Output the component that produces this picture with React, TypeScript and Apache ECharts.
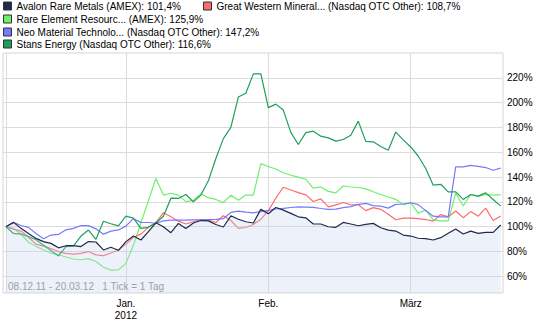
import React, { useEffect, useRef } from 'react';
import * as echarts from 'echarts';

const dates: string[] = [
  '2011-12-08', '2011-12-09', '2011-12-12', '2011-12-13', '2011-12-14', '2011-12-15', '2011-12-16',
  '2011-12-19', '2011-12-20', '2011-12-21', '2011-12-22', '2011-12-23', '2011-12-27', '2011-12-28',
  '2011-12-29', '2011-12-30',
  '2012-01-03', '2012-01-04', '2012-01-05', '2012-01-06', '2012-01-09', '2012-01-10', '2012-01-11',
  '2012-01-12', '2012-01-13', '2012-01-17', '2012-01-18', '2012-01-19', '2012-01-20', '2012-01-23',
  '2012-01-24', '2012-01-25', '2012-01-26', '2012-01-30', '2012-01-31',
  '2012-02-01', '2012-02-02', '2012-02-03', '2012-02-06', '2012-02-07', '2012-02-08', '2012-02-09',
  '2012-02-10', '2012-02-13', '2012-02-14', '2012-02-15', '2012-02-16', '2012-02-17', '2012-02-21',
  '2012-02-22', '2012-02-23', '2012-02-24', '2012-02-27', '2012-02-28',
  '2012-03-01', '2012-03-02', '2012-03-05', '2012-03-06', '2012-03-07', '2012-03-08', '2012-03-09',
  '2012-03-12', '2012-03-13', '2012-03-14', '2012-03-15', '2012-03-16', '2012-03-20',
];

const avalon: number[] = [
  100, 103.5, 98.7, 94.6, 90.6, 88, 86.6, 83, 84.7, 84.7,
  84, 88, 87.7, 81.3, 83.5, 81, 88, 92.5, 89.3, 96,
  103.2, 100, 95.2, 102.7, 98.5, 103, 105, 104.7, 101.8, 99.8,
  108.8, 106, 104, 103, 114, 110.5, 115.5, 113.4, 110.8, 108,
  107.2, 102.2, 102.2, 100, 99.5, 103.5, 102.2, 100.8, 101.9, 102.7,
  99.2, 97.3, 96.5, 93.3, 92.5, 90.7, 90.4, 89.3, 91.2, 94.7,
  98.2, 94.1, 96.5, 94.7, 95.5, 95.5, 101.4,
];

const greatWestern: number[] = [
  100, 98.1, 96.5, 91.5, 86, 84.4, 82.5, 80, 78.5, 78,
  78.5, 80, 77.3, 76.7, 78.8, 81.3, 86, 91.5, 94, 99.5,
  103.5, 111.2, 108, 104.5, 102.2, 104, 105.8, 105.4, 103.4, 108.8,
  105, 98.7, 99.4, 101.8, 106, 113, 123, 131.8, 129.6, 127.5,
  125.7, 120.3, 122.4, 116, 117.6, 119.5, 117.7, 117.7, 113, 115.4,
  114, 110, 105.6, 107, 107, 106.6, 105.8, 104.5, 109.8, 108,
  112.7, 107.3, 112.2, 108.5, 115, 105, 108.7,
];

const rareElement: number[] = [
  100, 98.8, 94, 87.5, 84.2, 81.3, 78.8, 77.4, 75.6, 74,
  73.4, 74.3, 72, 67.3, 65, 65.2, 70.5, 85, 103, 121,
  138.9, 125.5, 127, 125.5, 120.2, 121.3, 126.5, 123.4, 122, 119.5,
  125.3, 121.4, 125.5, 125.5, 150.9, 148.5, 146.5, 143.5, 141.5, 140,
  138.3, 131, 132.1, 128.5, 127.3, 132.8, 132, 131.6, 130.5, 128.2,
  126, 124, 122.1, 117.7, 119.2, 111, 113.4, 105.6, 104.7, 104.7,
  127, 116.7, 126, 124.4, 126, 125.5, 125.9,
];

const neoMaterial: number[] = [
  100, 103.5, 101, 99.5, 94.5, 90.3, 93.3, 93.8, 97.5, 98.7,
  101, 100.9, 98.3, 94, 96.5, 97.4, 100.5, 106.5, 103.5, 103.4,
  102.8, 104.7, 105.4, 105.4, 105.4, 105.5, 105.6, 105.8, 106, 106.5,
  111.5, 112.6, 111.8, 111.2, 112.2, 113.2, 114.3, 114.8, 115.5, 116,
  115.8, 115.6, 114.7, 114, 114.2, 115.4, 116.2, 118, 118.8, 117,
  116.6, 115, 118, 118.3, 119.3, 117.8, 113, 108.5, 108, 108,
  148.2, 148.2, 149.5, 148.7, 147.7, 145.5, 147.2,
];

const stans: number[] = [
  100, 94.6, 94.1, 92, 89.5, 85, 80.8, 76.5, 84, 84.3,
  92.5, 97.3, 89.8, 104.4, 102.4, 100.7, 108.5, 107, 98.7, 99.5,
  103, 108.5, 123, 122.8, 126, 120, 125.5, 137, 155, 171,
  180, 204.5, 207.6, 223.2, 223.2, 196, 198.8, 194, 176, 166.3,
  175.8, 177, 173, 171.6, 169, 170.3, 173.7, 185.1, 168.8, 168.4,
  164.6, 161.6, 176.3, 170, 164.3, 157, 146.9, 133.5, 134.2, 128.1,
  128.1, 122, 126, 124.7, 127.3, 122, 116.6,
];

const seriesNames: string[] = [
  'Avalon Rare Metals (AMEX)',
  'Great Western Mineral... (Nasdaq OTC Other)',
  'Rare Element Resourc... (AMEX)',
  'Neo Material Technolo... (Nasdaq OTC Other)',
  'Stans Energy (Nasdaq OTC Other)',
];
const seriesColors: string[] = ['#1f2b4d', '#ff6b6b', '#6cf06c', '#7878ff', '#1f9e5a'];
const seriesData: number[][] = [avalon, greatWestern, rareElement, neoMaterial, stans];

const yTickValues: number[] = [60, 80, 100, 120, 140, 160, 180, 200, 220];
const monthNames: string[] = ['Jan.', 'Feb.', 'März', 'Apr.', 'Mai', 'Juni', 'Juli', 'Aug.', 'Sep.', 'Okt.', 'Nov.', 'Dez.'];

const FONT = "'Liberation Sans', Arial, sans-serif";

function fmtPct(v: number): string {
  return v.toFixed(1).replace('.', ',') + '%';
}
function fmtShortDate(d: string): string {
  const [y, m, day] = d.split('-');
  return `${day}.${m}.${y.slice(2)}`;
}

export default function App() {
  const ref = useRef<HTMLDivElement>(null);

  useEffect(() => {
    if (!ref.current) return;
    const chart = echarts.init(ref.current, undefined, { renderer: 'svg' });

    const monthStarts: number[] = [];
    dates.forEach((d, i) => {
      if (i === 0 || d.slice(0, 7) !== dates[i - 1].slice(0, 7)) monthStarts.push(i);
    });
    const monthLabelIdx = monthStarts.filter((i) => i > 0);

    const legendPos = [
      { left: 3, top: 0 },
      { left: 203, top: 0 },
      { left: 3, top: 13 },
      { left: 3, top: 26 },
      { left: 3, top: 38 },
    ];

    const legends = seriesNames.map((name, k) => ({
      data: [name],
      left: legendPos[k].left,
      top: legendPos[k].top,
      padding: 0,
      icon: 'rect',
      itemWidth: 8,
      itemHeight: 8,
      itemGap: 0,
      selectedMode: false,
      itemStyle: { borderColor: '#333333', borderWidth: 1 },
      textStyle: { fontSize: 10, fontFamily: FONT, color: '#000', lineHeight: 12 },
      formatter: (n: string) => {
        const idx = seriesNames.indexOf(n);
        const arr = seriesData[idx];
        return `${n}: ${fmtPct(arr[arr.length - 1])}`;
      },
    }));

    const drawOrder = [2, 1, 3, 4, 0];
    const series = drawOrder.map((k) => ({
      name: seriesNames[k],
      type: 'line',
      data: seriesData[k].map((v, i) => [i, v]),
      showSymbol: false,
      symbol: 'none',
      color: seriesColors[k],
      lineStyle: { color: seriesColors[k], width: 1.2 },
      emphasis: { disabled: true },
      z: 2 + drawOrder.indexOf(k),
      ...(k === 0
        ? { areaStyle: { color: '#c4cff0', opacity: 0.3, origin: 'start' } }
        : {}),
    }));

    const rangeText = `${fmtShortDate(dates[0])} - ${fmtShortDate(dates[dates.length - 1])}   1 Tick = 1 Tag`;

    chart.setOption({
      animation: false,
      textStyle: { fontFamily: FONT },
      legend: legends,
      grid: {
        left: 3,
        right: 42,
        top: 53,
        bottom: 34,
        show: true,
        borderColor: '#d6d6d6',
        borderWidth: 1,
      },
      xAxis: {
        type: 'value',
        min: -0.4,
        max: dates.length - 1 + 0.31,
        axisLine: { show: false },
        axisTick: { show: false, customValues: monthStarts },
        axisLabel: {
          customValues: monthLabelIdx,
          margin: 4,
          fontSize: 10,
          lineHeight: 12,
          color: '#000',
          fontFamily: FONT,
          formatter: (v: number) => {
            const d = dates[Math.round(v)];
            if (!d) return '';
            const m = parseInt(d.slice(5, 7), 10);
            return m === 1 ? `${monthNames[0]}\n${d.slice(0, 4)}` : monthNames[m - 1];
          },
        },
        splitLine: { show: true, lineStyle: { color: '#dcdcdc', width: 1 } },
      },
      yAxis: {
        type: 'value',
        position: 'right',
        min: 46.6,
        max: 240,
        axisLine: { show: false },
        axisTick: { show: false, customValues: yTickValues },
        axisLabel: {
          customValues: yTickValues,
          margin: 4,
          fontSize: 10,
          color: '#000',
          fontFamily: FONT,
          formatter: (v: number) => `${v}%`,
        },
        splitLine: { show: true, lineStyle: { color: '#dcdcdc', width: 1 } },
      },
      graphic: [
        {
          type: 'text',
          left: 8,
          top: 281,
          z: 100,
          style: { text: rangeText, fill: '#a0a0a0', font: `10px ${FONT}` },
        },
      ],
      series,
    });

    return () => chart.dispose();
  }, []);

  return (
    <div
      ref={ref}
      style={{ position: 'fixed', left: 0, top: 0, width: 545, height: 327, background: '#fff' }}
    />
  );
}
